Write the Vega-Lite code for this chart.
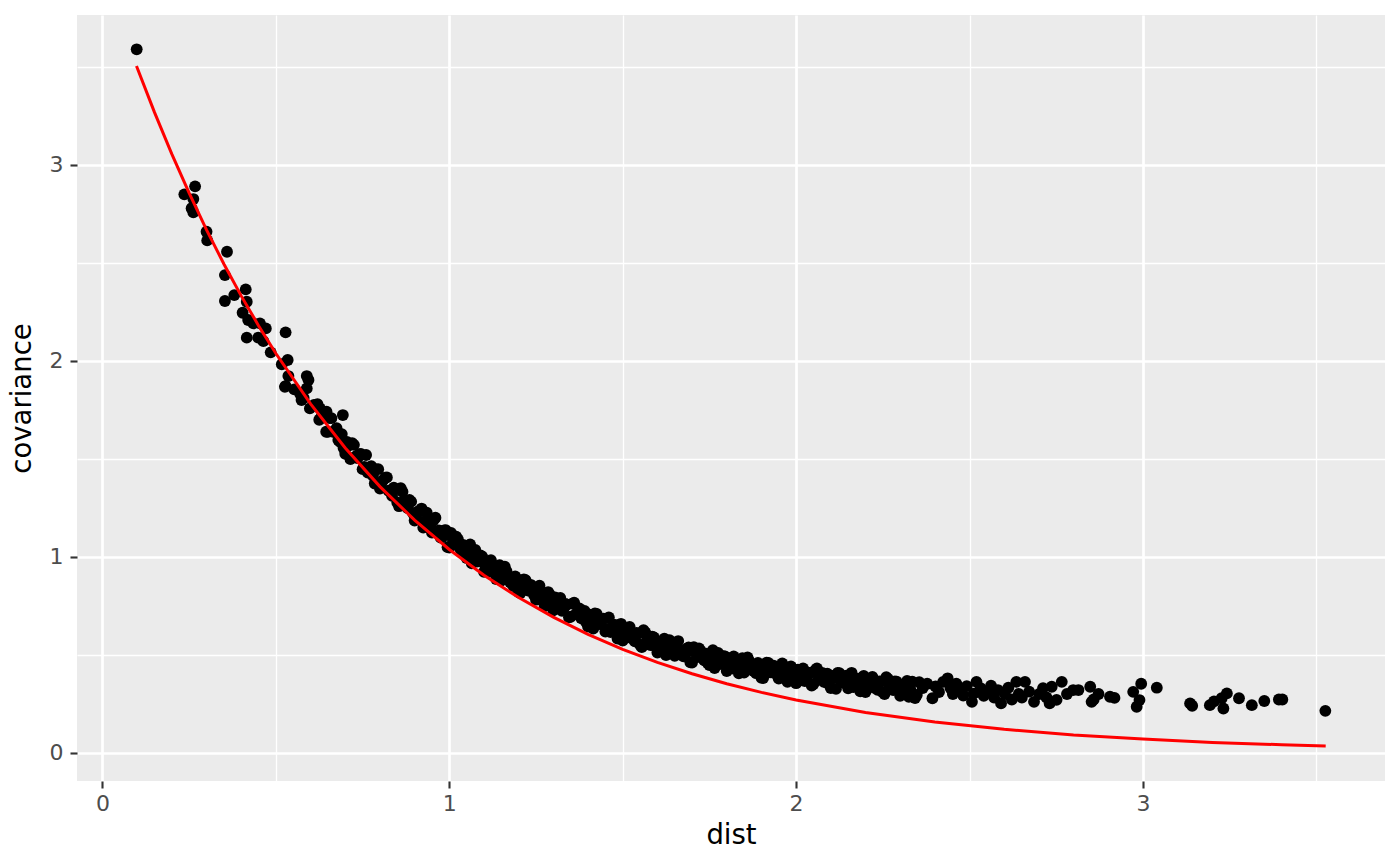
{
"$schema":"https://vega.github.io/schema/vega-lite/v6.json",
"width":1308,"height":766,
"autosize":{"type":"none"},
"padding":{"left":77,"top":15,"right":15,"bottom":84},
"background":"white",
"config":{"view":{"fill":"#EBEBEB","stroke":null},"font":"DejaVu Sans",
"axis":{"labelFont":"DejaVu Sans","labelFontSize":22,"labelColor":"#4D4D4D","tickColor":"#333333","tickWidth":2.1,"tickSize":7,"domain":false,"gridColor":"#FFFFFF","titleFont":"DejaVu Sans","titleFontSize":27.5,"titleColor":"#000000","titleFontWeight":"normal","labelFlush":false}},
"datasets":{
"pts":[
{"dist":0.0986,"covariance":3.589},{"dist":0.236,"covariance":2.849},{"dist":0.267,"covariance":2.89},{"dist":0.262,"covariance":2.825},{"dist":0.257,"covariance":2.778},{"dist":0.262,"covariance":2.757},{"dist":0.3,"covariance":2.658},{"dist":0.302,"covariance":2.614},{"dist":0.359,"covariance":2.556},{"dist":0.353,"covariance":2.437},{"dist":0.413,"covariance":2.364},{"dist":0.38,"covariance":2.335},{"dist":0.353,"covariance":2.305},{"dist":0.416,"covariance":2.301},{"dist":0.404,"covariance":2.245},{"dist":0.42,"covariance":2.208},{"dist":0.435,"covariance":2.191},{"dist":0.454,"covariance":2.191},{"dist":0.471,"covariance":2.165},{"dist":0.528,"covariance":2.145},{"dist":0.416,"covariance":2.118},{"dist":0.449,"covariance":2.118},{"dist":0.464,"covariance":2.1},{"dist":0.485,"covariance":2.043},{"dist":0.534,"covariance":2.004},{"dist":0.517,"covariance":1.982},{"dist":0.536,"covariance":1.922},{"dist":0.589,"covariance":1.922},{"dist":0.594,"covariance":1.902},{"dist":0.528,"covariance":1.871},{"dist":0.553,"covariance":1.854},{"dist":0.589,"covariance":1.859},{"dist":0.574,"covariance":1.8},{"dist":0.598,"covariance":1.757},{"dist":0.627,"covariance":1.757},{"dist":0.646,"covariance":1.74},{"dist":0.693,"covariance":1.723},{"dist":0.526,"covariance":1.867},{"dist":0.57,"covariance":1.83},{"dist":0.58,"covariance":1.81},{"dist":0.61,"covariance":1.775},
{"dist":0.62,"covariance":1.779},{"dist":0.625,"covariance":1.699},{"dist":0.63,"covariance":1.709},{"dist":0.635,"covariance":1.728},{"dist":0.64,"covariance":1.718},{"dist":0.645,"covariance":1.638},{"dist":0.65,"covariance":1.638},{"dist":0.655,"covariance":1.707},{"dist":0.66,"covariance":1.707},{"dist":0.665,"covariance":1.637},{"dist":0.67,"covariance":1.637},{"dist":0.675,"covariance":1.656},{"dist":0.68,"covariance":1.596},{"dist":0.685,"covariance":1.586},{"dist":0.69,"covariance":1.626},{"dist":0.695,"covariance":1.555},{"dist":0.7,"covariance":1.525},{"dist":0.705,"covariance":1.586},{"dist":0.71,"covariance":1.567},{"dist":0.715,"covariance":1.498},{"dist":0.72,"covariance":1.58},{"dist":0.725,"covariance":1.571},{"dist":0.73,"covariance":1.512},{"dist":0.735,"covariance":1.503},{"dist":0.74,"covariance":1.524},{"dist":0.745,"covariance":1.525},{"dist":0.75,"covariance":1.447},{"dist":0.755,"covariance":1.458},{"dist":0.76,"covariance":1.519},{"dist":0.765,"covariance":1.43},{"dist":0.77,"covariance":1.451},{"dist":0.775,"covariance":1.462},{"dist":0.78,"covariance":1.413},{"dist":0.785,"covariance":1.374},{"dist":0.79,"covariance":1.446},{"dist":0.795,"covariance":1.447},{"dist":0.8,"covariance":1.348},{"dist":0.805,"covariance":1.38},{"dist":0.81,"covariance":1.392},{"dist":0.815,"covariance":1.403},{"dist":0.82,"covariance":1.405},{"dist":0.825,"covariance":1.337},{"dist":0.83,"covariance":1.339},{"dist":0.835,"covariance":1.311},{"dist":0.84,"covariance":1.353},{"dist":0.845,"covariance":1.345},{"dist":0.85,"covariance":1.277},{"dist":0.855,"covariance":1.258},{"dist":0.86,"covariance":1.35},{"dist":0.865,"covariance":1.332},{"dist":0.87,"covariance":1.284},{"dist":0.875,"covariance":1.266},{"dist":0.88,"covariance":1.248},{"dist":0.885,"covariance":1.29},{"dist":0.89,"covariance":1.281},{"dist":0.895,"covariance":1.223},{"dist":0.9,"covariance":1.185},{"dist":0.905,"covariance":1.198},{"dist":0.91,"covariance":1.231},{"dist":0.915,"covariance":1.234},{"dist":0.92,"covariance":1.246},{"dist":0.925,"covariance":1.149},{"dist":0.93,"covariance":1.182},{"dist":0.935,"covariance":1.225},{"dist":0.94,"covariance":1.198},{"dist":0.945,"covariance":1.161},{"dist":0.95,"covariance":1.124},{"dist":0.955,"covariance":1.187},{"dist":0.96,"covariance":1.199},{"dist":0.965,"covariance":1.122},{"dist":0.97,"covariance":1.135},{"dist":0.975,"covariance":1.098},{"dist":0.98,"covariance":1.101},{"dist":0.985,"covariance":1.134},{"dist":0.99,"covariance":1.136},{"dist":0.995,"covariance":1.049},
{"dist":1.0,"covariance":1.047},{"dist":1.005,"covariance":1.122},{"dist":1.01,"covariance":1.089},{"dist":1.015,"covariance":1.065},{"dist":1.02,"covariance":1.103},{"dist":1.025,"covariance":1.088},{"dist":1.03,"covariance":1.046},{"dist":1.035,"covariance":1.031},{"dist":1.04,"covariance":1.06},{"dist":1.045,"covariance":1.009},{"dist":1.05,"covariance":0.994},{"dist":1.055,"covariance":1.042},{"dist":1.06,"covariance":1.063},{"dist":1.065,"covariance":0.966},{"dist":1.07,"covariance":1.005},{"dist":1.075,"covariance":1.035},{"dist":1.08,"covariance":0.975},{"dist":1.085,"covariance":0.978},{"dist":1.09,"covariance":1.007},{"dist":1.095,"covariance":1.001},{"dist":1.1,"covariance":0.923},{"dist":1.105,"covariance":0.945},{"dist":1.11,"covariance":0.966},{"dist":1.115,"covariance":0.925},{"dist":1.12,"covariance":0.983},{"dist":1.125,"covariance":0.96},{"dist":1.13,"covariance":0.927},{"dist":1.135,"covariance":0.886},{"dist":1.14,"covariance":0.944},{"dist":1.145,"covariance":0.957},{"dist":1.15,"covariance":0.879},{"dist":1.155,"covariance":0.901},{"dist":1.16,"covariance":0.949},{"dist":1.165,"covariance":0.926},{"dist":1.17,"covariance":0.894},{"dist":1.175,"covariance":0.871},{"dist":1.18,"covariance":0.865},{"dist":1.185,"covariance":0.851},{"dist":1.19,"covariance":0.9},{"dist":1.195,"covariance":0.886},
{"dist":1.2,"covariance":0.82},{"dist":1.205,"covariance":0.815},{"dist":1.21,"covariance":0.862},{"dist":1.215,"covariance":0.885},{"dist":1.22,"covariance":0.88},{"dist":1.225,"covariance":0.83},{"dist":1.23,"covariance":0.826},{"dist":1.235,"covariance":0.857},{"dist":1.24,"covariance":0.843},{"dist":1.245,"covariance":0.803},{"dist":1.25,"covariance":0.781},{"dist":1.255,"covariance":0.784},{"dist":1.26,"covariance":0.852},{"dist":1.265,"covariance":0.82},{"dist":1.27,"covariance":0.798},{"dist":1.275,"covariance":0.749},{"dist":1.28,"covariance":0.77},{"dist":1.285,"covariance":0.82},{"dist":1.29,"covariance":0.806},{"dist":1.295,"covariance":0.766},{"dist":1.3,"covariance":0.727},{"dist":1.305,"covariance":0.793},{"dist":1.31,"covariance":0.771},{"dist":1.315,"covariance":0.74},{"dist":1.32,"covariance":0.79},{"dist":1.325,"covariance":0.724},{"dist":1.33,"covariance":0.737},{"dist":1.335,"covariance":0.76},{"dist":1.34,"covariance":0.756},{"dist":1.345,"covariance":0.691},{"dist":1.35,"covariance":0.694},{"dist":1.355,"covariance":0.761},{"dist":1.36,"covariance":0.766},{"dist":1.365,"covariance":0.708},{"dist":1.37,"covariance":0.713},{"dist":1.375,"covariance":0.736},{"dist":1.38,"covariance":0.687},{"dist":1.385,"covariance":0.683},{"dist":1.39,"covariance":0.724},{"dist":1.395,"covariance":0.666},{"dist":1.4,"covariance":0.644},{"dist":1.405,"covariance":0.704},{"dist":1.41,"covariance":0.691},{"dist":1.415,"covariance":0.634},{"dist":1.42,"covariance":0.711},{"dist":1.425,"covariance":0.708},{"dist":1.43,"covariance":0.659},{"dist":1.435,"covariance":0.656},{"dist":1.44,"covariance":0.679},{"dist":1.445,"covariance":0.684},{"dist":1.45,"covariance":0.618},{"dist":1.455,"covariance":0.632},{"dist":1.46,"covariance":0.691},{"dist":1.465,"covariance":0.616},{"dist":1.47,"covariance":0.639},{"dist":1.475,"covariance":0.654},{"dist":1.48,"covariance":0.614},{"dist":1.485,"covariance":0.583},{"dist":1.49,"covariance":0.652},{"dist":1.495,"covariance":0.658},{"dist":1.5,"covariance":0.573},{"dist":1.505,"covariance":0.606},{"dist":1.51,"covariance":0.621},{"dist":1.515,"covariance":0.636},{"dist":1.52,"covariance":0.642},{"dist":1.525,"covariance":0.585},{"dist":1.53,"covariance":0.59},{"dist":1.535,"covariance":0.569},{"dist":1.54,"covariance":0.611},{"dist":1.545,"covariance":0.608},{"dist":1.55,"covariance":0.551},{"dist":1.555,"covariance":0.539},{"dist":1.56,"covariance":0.626},{"dist":1.565,"covariance":0.614},{"dist":1.57,"covariance":0.575},{"dist":1.575,"covariance":0.562},{"dist":1.58,"covariance":0.55},{"dist":1.585,"covariance":0.593},{"dist":1.59,"covariance":0.589},{"dist":1.595,"covariance":0.541},{"dist":1.6,"covariance":0.511},{"dist":1.605,"covariance":0.526},{"dist":1.61,"covariance":0.56},{"dist":1.615,"covariance":0.567},{"dist":1.62,"covariance":0.582},{"dist":1.625,"covariance":0.498},{"dist":1.63,"covariance":0.532},{"dist":1.635,"covariance":0.574},{"dist":1.64,"covariance":0.554},{"dist":1.645,"covariance":0.524},{"dist":1.65,"covariance":0.495},{"dist":1.655,"covariance":0.555},{"dist":1.66,"covariance":0.57},{"dist":1.665,"covariance":0.505},{"dist":1.67,"covariance":0.52},{"dist":1.675,"covariance":0.492},{"dist":1.68,"covariance":0.497},{"dist":1.685,"covariance":0.531},{"dist":1.69,"covariance":0.537},{"dist":1.695,"covariance":0.462},{"dist":1.7,"covariance":0.46},{"dist":1.705,"covariance":0.539},{"dist":1.71,"covariance":0.51},{"dist":1.715,"covariance":0.49},{"dist":1.72,"covariance":0.532},{"dist":1.725,"covariance":0.52},{"dist":1.73,"covariance":0.483},{"dist":1.735,"covariance":0.472},{"dist":1.74,"covariance":0.506},{"dist":1.745,"covariance":0.458},{"dist":1.75,"covariance":0.448},{"dist":1.755,"covariance":0.5},{"dist":1.76,"covariance":0.524},{"dist":1.765,"covariance":0.432},{"dist":1.77,"covariance":0.475},{"dist":1.775,"covariance":0.509},{"dist":1.78,"covariance":0.453},{"dist":1.785,"covariance":0.459},{"dist":1.79,"covariance":0.493},{"dist":1.795,"covariance":0.491},{"dist":1.8,"covariance":0.417},{"dist":1.805,"covariance":0.441},{"dist":1.81,"covariance":0.468},{"dist":1.815,"covariance":0.43},{"dist":1.82,"covariance":0.491},{"dist":1.825,"covariance":0.472},{"dist":1.83,"covariance":0.443},{"dist":1.835,"covariance":0.405},{"dist":1.84,"covariance":0.466},{"dist":1.845,"covariance":0.483},{"dist":1.85,"covariance":0.409},{"dist":1.855,"covariance":0.434},{"dist":1.86,"covariance":0.487},{"dist":1.865,"covariance":0.467},{"dist":1.87,"covariance":0.438},{"dist":1.875,"covariance":0.419},{"dist":1.88,"covariance":0.417},{"dist":1.885,"covariance":0.406},{"dist":1.89,"covariance":0.458},{"dist":1.895,"covariance":0.448},{"dist":1.9,"covariance":0.383},{"dist":1.905,"covariance":0.381},{"dist":1.91,"covariance":0.434},{"dist":1.915,"covariance":0.46},{"dist":1.92,"covariance":0.458},{"dist":1.925,"covariance":0.411},{"dist":1.93,"covariance":0.41},{"dist":1.935,"covariance":0.445},{"dist":1.94,"covariance":0.435},{"dist":1.945,"covariance":0.397},{"dist":1.95,"covariance":0.378},{"dist":1.955,"covariance":0.385},{"dist":1.96,"covariance":0.456},{"dist":1.965,"covariance":0.428},{"dist":1.97,"covariance":0.408},{"dist":1.975,"covariance":0.362},{"dist":1.98,"covariance":0.387},{"dist":1.985,"covariance":0.44},{"dist":1.99,"covariance":0.429},{"dist":1.995,"covariance":0.392},
{"dist":2.0,"covariance":0.355},{"dist":2.005,"covariance":0.424},{"dist":2.01,"covariance":0.405},{"dist":2.015,"covariance":0.378},{"dist":2.02,"covariance":0.43},{"dist":2.025,"covariance":0.366},{"dist":2.03,"covariance":0.383},{"dist":2.035,"covariance":0.409},{"dist":2.04,"covariance":0.407},{"dist":2.045,"covariance":0.343},{"dist":2.05,"covariance":0.351},{"dist":2.055,"covariance":0.422},{"dist":2.06,"covariance":0.43},{"dist":2.065,"covariance":0.374},{"dist":2.07,"covariance":0.382},{"dist":2.075,"covariance":0.408},{"dist":2.08,"covariance":0.362},{"dist":2.085,"covariance":0.361},{"dist":2.09,"covariance":0.404},{"dist":2.095,"covariance":0.349},{"dist":2.1,"covariance":0.33},{"dist":2.105,"covariance":0.392},{"dist":2.11,"covariance":0.382},{"dist":2.115,"covariance":0.326},{"dist":2.12,"covariance":0.407},{"dist":2.125,"covariance":0.406},{"dist":2.13,"covariance":0.36},{"dist":2.135,"covariance":0.359},{"dist":2.14,"covariance":0.385},{"dist":2.145,"covariance":0.393},{"dist":2.15,"covariance":0.329},{"dist":2.155,"covariance":0.346},{"dist":2.16,"covariance":0.408},{"dist":2.165,"covariance":0.335},{"dist":2.17,"covariance":0.361},{"dist":2.175,"covariance":0.378},{"dist":2.18,"covariance":0.341},{"dist":2.185,"covariance":0.314},{"dist":2.19,"covariance":0.384},{"dist":2.195,"covariance":0.392},{"dist":2.2,"covariance":0.31},{"dist":2.205,"covariance":0.345},{"dist":2.21,"covariance":0.362},{"dist":2.215,"covariance":0.379},{"dist":2.22,"covariance":0.387},{"dist":2.225,"covariance":0.332},{"dist":2.23,"covariance":0.34},{"dist":2.235,"covariance":0.321},{"dist":2.24,"covariance":0.364},{"dist":2.245,"covariance":0.363},{"dist":2.25,"covariance":0.309},{"dist":2.255,"covariance":0.3},{"dist":2.26,"covariance":0.386},{"dist":2.265,"covariance":0.377},{"dist":2.27,"covariance":0.34},{"dist":2.275,"covariance":0.33},{"dist":2.28,"covariance":0.32},{"dist":2.285,"covariance":0.364},{"dist":2.29,"covariance":0.363},{"dist":2.295,"covariance":0.317},{"dist":2.3,"covariance":0.29},{"dist":2.305,"covariance":0.307},{"dist":2.31,"covariance":0.341},{"dist":2.315,"covariance":0.348},{"dist":2.32,"covariance":0.366},{"dist":2.325,"covariance":0.285},{"dist":2.33,"covariance":0.32},{"dist":2.335,"covariance":0.363},
{"dist":2.343,"covariance":0.279},{"dist":2.348,"covariance":0.295},{"dist":2.355,"covariance":0.36},{"dist":2.365,"covariance":0.33},{"dist":2.378,"covariance":0.352},{"dist":2.393,"covariance":0.278},{"dist":2.402,"covariance":0.338},{"dist":2.412,"covariance":0.31},{"dist":2.424,"covariance":0.362},{"dist":2.437,"covariance":0.38},{"dist":2.445,"covariance":0.33},{"dist":2.452,"covariance":0.3},{"dist":2.462,"covariance":0.352},{"dist":2.471,"covariance":0.322},{"dist":2.482,"covariance":0.292},{"dist":2.492,"covariance":0.34},{"dist":2.507,"covariance":0.26},{"dist":2.512,"covariance":0.302},{"dist":2.52,"covariance":0.362},{"dist":2.532,"covariance":0.33},{"dist":2.541,"covariance":0.29},{"dist":2.553,"covariance":0.312},{"dist":2.562,"covariance":0.342},{"dist":2.571,"covariance":0.282},{"dist":2.582,"covariance":0.32},{"dist":2.591,"covariance":0.252},{"dist":2.602,"covariance":0.3},{"dist":2.612,"covariance":0.332},{"dist":2.622,"covariance":0.272},{"dist":2.635,"covariance":0.362},{"dist":2.642,"covariance":0.3},{"dist":2.651,"covariance":0.282},{"dist":2.66,"covariance":0.362},{"dist":2.672,"covariance":0.312},{"dist":2.686,"covariance":0.26},{"dist":2.701,"covariance":0.3},{"dist":2.712,"covariance":0.33},{"dist":2.722,"covariance":0.282},{"dist":2.731,"covariance":0.252},{"dist":2.737,"covariance":0.337},{"dist":2.751,"covariance":0.27},{"dist":2.766,"covariance":0.362},{"dist":2.781,"covariance":0.3},{"dist":2.799,"covariance":0.32},{"dist":2.814,"covariance":0.32},{"dist":2.848,"covariance":0.337},{"dist":2.852,"covariance":0.26},{"dist":2.858,"covariance":0.272},{"dist":2.872,"covariance":0.3},{"dist":2.905,"covariance":0.286},{"dist":2.918,"covariance":0.28},{"dist":2.972,"covariance":0.311},{"dist":2.982,"covariance":0.235},{"dist":2.99,"covariance":0.269},{"dist":2.995,"covariance":0.352},{"dist":3.04,"covariance":0.332},{"dist":3.136,"covariance":0.252},{"dist":3.142,"covariance":0.24},{"dist":3.193,"covariance":0.243},{"dist":3.205,"covariance":0.262},{"dist":3.227,"covariance":0.278},{"dist":3.232,"covariance":0.226},{"dist":3.242,"covariance":0.303},{"dist":3.277,"covariance":0.278},{"dist":3.314,"covariance":0.243},{"dist":3.35,"covariance":0.264},{"dist":3.392,"covariance":0.272},{"dist":3.402,"covariance":0.272},{"dist":3.526,"covariance":0.214}
],
"fit":[
{"dist":0.098,"covariance":3.504},{"dist":0.15,"covariance":3.267},{"dist":0.2,"covariance":3.054},{"dist":0.25,"covariance":2.855},{"dist":0.3,"covariance":2.668},{"dist":0.35,"covariance":2.494},{"dist":0.4,"covariance":2.331},{"dist":0.45,"covariance":2.179},{"dist":0.5,"covariance":2.037},{"dist":0.6,"covariance":1.78},{"dist":0.7,"covariance":1.555},{"dist":0.8,"covariance":1.358},{"dist":0.9,"covariance":1.187},{"dist":1.0,"covariance":1.037},{"dist":1.1,"covariance":0.906},{"dist":1.2,"covariance":0.792},{"dist":1.3,"covariance":0.692},{"dist":1.4,"covariance":0.604},{"dist":1.5,"covariance":0.528},{"dist":1.6,"covariance":0.461},{"dist":1.7,"covariance":0.403},{"dist":1.8,"covariance":0.352},{"dist":1.9,"covariance":0.308},{"dist":2.0,"covariance":0.269},{"dist":2.2,"covariance":0.205},{"dist":2.4,"covariance":0.157},{"dist":2.6,"covariance":0.12},{"dist":2.8,"covariance":0.091},{"dist":3.0,"covariance":0.07},{"dist":3.2,"covariance":0.053},{"dist":3.4,"covariance":0.041},{"dist":3.527,"covariance":0.034}
]},
"layer":[
{"data":{"name":"pts"},
"mark":{"type":"circle","color":"#000000","size":140,"opacity":1},
"encoding":{
"x":{"field":"dist","type":"quantitative","scale":{"domain":[-0.0735,3.698],"nice":false,"zero":false},"axis":{"orient":"top","values":[0.5,1.5,2.5,3.5],"labels":false,"ticks":false,"domain":false,"title":null,"grid":true,"gridWidth":1.3}},
"y":{"field":"covariance","type":"quantitative","scale":{"domain":[-0.144,3.764],"nice":false,"zero":false},"axis":{"orient":"right","values":[0.5,1.5,2.5,3.5],"labels":false,"ticks":false,"domain":false,"title":null,"grid":true,"gridWidth":1.3}}}},
{"data":{"name":"fit"},
"mark":{"type":"line","color":"#FF0000","strokeWidth":3},
"encoding":{
"x":{"field":"dist","type":"quantitative","scale":{"domain":[-0.0735,3.698],"nice":false,"zero":false},"axis":{"orient":"bottom","values":[0,1,2,3],"format":"d","title":"dist","labelPadding":5,"titlePadding":7,"grid":true,"gridWidth":2.7}},
"y":{"field":"covariance","type":"quantitative","scale":{"domain":[-0.144,3.764],"nice":false,"zero":false},"axis":{"orient":"left","values":[0,1,2,3],"format":"d","title":"covariance","labelPadding":7,"titlePadding":13,"grid":true,"gridWidth":2.7}}}}
],
"resolve":{"axis":{"x":"independent","y":"independent"}}
}
